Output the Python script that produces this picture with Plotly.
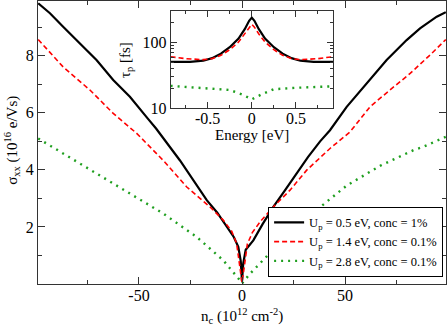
import plotly.graph_objects as go

# ---- main panel data: sigma_xx (1e16 e/Vs) vs n_c (1e12 cm^-2)
n_black = [-98.9, -93.2, -86.8, -78.6, -70.5, -62.5, -54.4, -45.5, -41.7, -30.1, -23.6, -17.1, -12.0, -7.4, -4.0, -1.8, -0.6, 0.0,
           0.6, 1.8, 5.5, 10.0, 15.2, 20.5, 26.5, 32.0, 37.9, 42.7, 50.8, 58.9, 63.7, 70.2, 79.9, 86.4, 94.5, 98.9]
s_black = [9.84, 9.49, 9.02, 8.43, 7.84, 7.15, 6.56, 5.78, 5.45, 4.33, 3.62, 2.94, 2.50, 2.00, 1.65, 1.30, 0.80, 0.10,
           0.72, 1.20, 1.53, 2.10, 2.70, 3.25, 3.88, 4.45, 5.00, 5.39, 6.21, 6.91, 7.32, 7.85, 8.55, 8.96, 9.37, 9.53]

n_red = [-98.9, -86.8, -73.8, -62.5, -51.1, -45.5, -38.2, -26.8, -15.5, -9.1, -5.0, -2.6, -0.8, 0.0,
         0.8, 2.6, 5.0, 9.0, 15.2, 23.3, 31.4, 42.7, 52.4, 62.1, 71.8, 81.6, 91.3, 98.9]
s_red = [8.57, 7.61, 6.80, 5.98, 5.28, 4.87, 4.33, 3.40, 2.70, 2.24, 1.85, 1.42, 0.40, 0.05,
         0.45, 1.40, 1.80, 2.20, 2.70, 3.29, 3.99, 4.75, 5.33, 6.21, 6.80, 7.38, 8.03, 8.57]

n_green = [-98.9, -86.8, -70.5, -54.4, -38.2, -22.0, -9.1, -1.0, 0.0,
           3.9, 18.4, 34.6, 50.8, 67.2, 83.2, 88.0, 98.9]
s_green = [5.10, 4.57, 3.86, 3.17, 2.47, 1.65, 0.83, 0.13, 0.02,
           0.36, 1.45, 2.50, 3.45, 4.15, 4.69, 4.81, 5.16]

# ---- inset data: tau_p (fs) vs energy (eV)
e_black = [-0.92, -0.70, -0.55, -0.45, -0.35, -0.25, -0.15, -0.08, -0.03, 0.0, 0.03, 0.08, 0.15, 0.25, 0.35, 0.45, 0.55, 0.70, 0.92]
t_black = [51, 51, 53, 58, 68, 85, 115, 160, 215, 240, 215, 160, 115, 85, 68, 58, 53, 51, 51]

e_red = [-0.92, -0.75, -0.55, -0.45, -0.35, -0.25, -0.15, -0.08, -0.03, 0.0, 0.03, 0.08, 0.15, 0.25, 0.35, 0.45, 0.55, 0.75, 0.92]
t_red = [61, 57, 55, 57, 64, 78, 102, 135, 172, 190, 172, 135, 102, 78, 64, 57, 55, 57, 61]

e_green = [-0.92, -0.5, -0.25, -0.1, 0.0, 0.1, 0.25, 0.5, 0.92]
t_green = [21.9, 20.2, 19.0, 16.0, 13.7, 16.0, 19.5, 20.5, 21.6]

names = ["U<sub>p</sub> = 0.5 eV, conc = 1%",
         "U<sub>p</sub> = 1.4 eV, conc = 0.1%",
         "U<sub>p</sub> = 2.8 eV, conc = 0.1%"]

main_xticks = [-50, 0, 50]
main_xticktext = ["-50", "0", "50"]
main_yticks = [2, 4, 6, 8]
inset_xticks = [-0.5, 0, 0.5]
inset_xticktext = ["-0.5", "0", "0.5"]
inset_yticks = [10, 100]
inset_yminor = [20, 30, 40, 50, 60, 70, 80, 90, 200, 300]

FONT = "Liberation Serif"
BLACK = "#000000"
RED = "#ff0000"
GREEN = "#1f9f1f"
AX = "#333333"

styles = [dict(color=BLACK, width=2.2),
          dict(color=RED, width=1.6, dash="5px,3px"),
          dict(color=GREEN, width=2.4, dash="2px,5px")]

fig = go.Figure()
for xs, ys, nm, st in [(n_black, s_black, names[0], styles[0]),
                       (n_red, s_red, names[1], styles[1]),
                       (n_green, s_green, names[2], styles[2])]:
    fig.add_trace(go.Scatter(x=xs, y=ys, mode="lines", name=nm, line=st,
                             xaxis="x", yaxis="y"))

for xs, ys, st in [(e_black, t_black, styles[0]),
                   (e_red, t_red, styles[1]),
                   (e_green, t_green, styles[2])]:
    fig.add_trace(go.Scatter(x=xs, y=ys, mode="lines", line=st, showlegend=False,
                             xaxis="x2", yaxis="y2"))

common = dict(showline=True, linecolor=AX, linewidth=1, mirror="ticks", ticks="inside",
              tickcolor=AX, showgrid=False, zeroline=False,
              tickfont=dict(family=FONT, size=16, color="#000"))

fig.update_layout(
    width=448, height=327,
    margin=dict(l=38, r=2, t=1, b=43, autoexpand=False),
    paper_bgcolor="white", plot_bgcolor="white",
    font=dict(family=FONT, color="#000"),
    xaxis=dict(domain=[0, 1], range=[-99, 99], tickmode="array", tickvals=main_xticks,
               ticktext=main_xticktext, ticklen=7, ticklabelstandoff=-3,
               minor=dict(dtick=25, tick0=0, ticks="inside", ticklen=4, tickcolor=AX),
               **common),
    yaxis=dict(domain=[0, 1], range=[0, 9.92], tickmode="array", tickvals=main_yticks,
               ticklen=7,
               minor=dict(dtick=1, tick0=0, ticks="inside", ticklen=4, tickcolor=AX),
               **common),
    xaxis2=dict(domain=[0.325, 0.723], anchor="y2", range=[-0.92, 0.92], tickmode="array",
                tickvals=inset_xticks, ticktext=inset_xticktext, ticklen=6, ticklabelstandoff=-4,
                minor=dict(dtick=0.25, tick0=0, ticks="inside", ticklen=3, tickcolor=AX),
                **common),
    yaxis2=dict(domain=[0.621, 0.965], anchor="x2", type="log", range=[1, 2.483],
                tickmode="array", tickvals=inset_yticks, ticklen=6,
                minor=dict(tickmode="array", tickvals=inset_yminor, ticks="inside",
                           ticklen=3, tickcolor=AX),
                **common),
    legend=dict(x=0.564, y=0.273, xanchor="left", yanchor="top",
                bordercolor="#000", borderwidth=1, bgcolor="white",
                font=dict(family=FONT, size=12.5, color="#000"),
                tracegroupgap=0, itemwidth=30),
    showlegend=True,
)

fig.add_annotation(text="σ<sub>xx</sub> (10<sup>16</sup> e/Vs)", xref="paper", yref="paper",
                   x=-0.064, y=0.509, textangle=-90, showarrow=False,
                   font=dict(family=FONT, size=15), xanchor="center", yanchor="middle")
fig.add_annotation(text="n<sub>c</sub> (10<sup>12</sup> cm<sup>-2</sup>)", xref="paper", yref="paper",
                   x=0.5, y=-0.112, showarrow=False,
                   font=dict(family=FONT, size=15), xanchor="center", yanchor="middle")
fig.add_annotation(text="τ<sub>p</sub> [fs]", xref="paper", yref="paper",
                   x=0.216, y=0.792, textangle=-90, showarrow=False,
                   font=dict(family=FONT, size=15), xanchor="center", yanchor="middle")
fig.add_annotation(text="Energy [eV]", xref="paper", yref="paper",
                   x=0.525, y=0.528, showarrow=False,
                   font=dict(family=FONT, size=15), xanchor="center", yanchor="middle")

fig.write_html("out.html",
               config={"displayModeBar": False},
               post_script="document.body.style.margin='0';document.body.style.padding='0';"
                           "document.body.style.overflow='hidden';")
